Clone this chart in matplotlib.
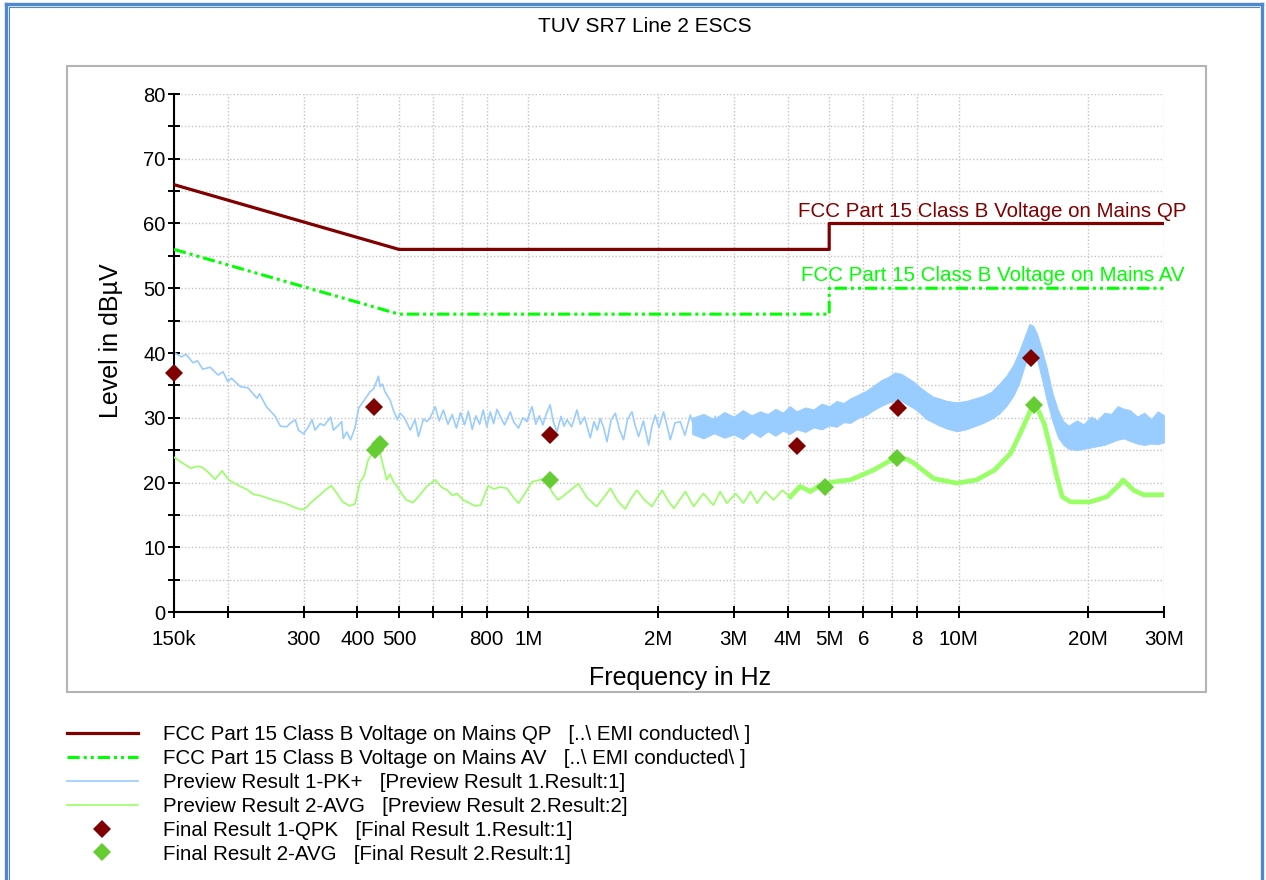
import numpy as np
import matplotlib
matplotlib.use("Agg")
import matplotlib.pyplot as plt
from matplotlib.patches import Rectangle
from matplotlib.lines import Line2D
from matplotlib.ticker import NullLocator

plt.rcParams['font.family'] = ['Liberation Sans', 'DejaVu Sans']

# ---------------- text ----------------
title = "TUV SR7 Line 2 ESCS"
x_label = "Frequency in Hz"
y_label = "Level in dBµV"
qp_label_plot = "FCC Part 15 Class B Voltage on Mains QP"
av_label_plot = "FCC Part 15 Class B Voltage on Mains AV"
legend_labels = [
    "FCC Part 15 Class B Voltage on Mains QP   [..\\ EMI conducted\\ ]",
    "FCC Part 15 Class B Voltage on Mains AV   [..\\ EMI conducted\\ ]",
    "Preview Result 1-PK+   [Preview Result 1.Result:1]",
    "Preview Result 2-AVG   [Preview Result 2.Result:2]",
    "Final Result 1-QPK   [Final Result 1.Result:1]",
    "Final Result 2-AVG   [Final Result 2.Result:1]",
]

# ---------------- ticks (MHz) ----------------
x_ticks = [0.15, 0.2, 0.3, 0.4, 0.5, 0.6, 0.7, 0.8, 1, 2, 3, 4, 5, 6, 7, 8, 10, 20, 30]
x_tick_labels = ["150k", "", "300", "400", "500", "", "", "800", "1M", "2M", "3M",
                 "4M", "5M", "6", "", "8", "10M", "20M", "30M"]
y_ticks = [0, 5, 10, 15, 20, 25, 30, 35, 40, 45, 50, 55, 60, 65, 70, 75, 80]
y_tick_labels = ["0", "", "10", "", "20", "", "30", "", "40", "", "50", "", "60", "", "70", "", "80"]

# ---------------- limit lines (MHz, dBµV) ----------------
qp_limit_f = [0.15, 0.5, 5.0, 5.0, 30.0]
qp_limit_v = [66, 56, 56, 60, 60]
av_limit_f = [0.15, 0.5, 5.0, 5.0, 30.0]
av_limit_v = [56, 46, 46, 50, 50]

# ---------------- Preview Result 1-PK+ (thin part) ----------------
pk_f = [0.150, 0.156, 0.160, 0.166, 0.170, 0.175, 0.182, 0.190, 0.195, 0.200,
        0.204, 0.214, 0.223, 0.234, 0.237, 0.246, 0.258, 0.265, 0.274, 0.280,
        0.287, 0.292, 0.300, 0.308, 0.314, 0.319, 0.328, 0.335, 0.347, 0.352,
        0.360, 0.368, 0.371, 0.378, 0.386, 0.395, 0.403, 0.413, 0.428, 0.437,
        0.448, 0.452, 0.458, 0.464, 0.477, 0.485, 0.496, 0.503, 0.515, 0.531,
        0.545, 0.555, 0.570, 0.581, 0.590, 0.607, 0.620, 0.634, 0.650, 0.665,
        0.680, 0.695, 0.710, 0.725, 0.740, 0.755, 0.770, 0.785, 0.800, 0.815,
        0.830, 0.845, 0.860, 0.880, 0.907, 0.925, 0.948, 0.970, 0.992, 1.005,
        1.019, 1.040, 1.060, 1.080, 1.100, 1.123, 1.140, 1.164, 1.190, 1.210,
        1.229, 1.260, 1.296, 1.320, 1.350, 1.392, 1.420, 1.445, 1.468, 1.495,
        1.522, 1.555, 1.592, 1.625, 1.663, 1.700, 1.740, 1.770, 1.803, 1.850,
        1.902, 1.935, 1.971, 2.010, 2.061, 2.100, 2.136, 2.190, 2.253, 2.310,
        2.377, 2.440, 2.509, 2.580, 2.650, 2.720]
pk_v = [40.1, 39.4, 39.8, 38.5, 38.8, 37.5, 37.8, 36.6, 37.1, 35.6,
        36.1, 34.8, 34.6, 33.0, 33.7, 31.7, 30.2, 28.7, 28.6, 29.2,
        29.7, 28.1, 27.5, 28.6, 29.7, 28.1, 29.1, 28.8, 30.1, 28.1,
        28.7, 29.4, 26.8, 27.8, 26.6, 28.4, 31.5, 32.5, 34.0, 34.5,
        36.4, 34.8, 35.2, 34.0, 32.7, 31.2, 29.7, 30.7, 30.0, 28.1,
        29.7, 27.1, 29.8, 29.4, 29.9, 31.7, 29.5, 31.2, 29.0, 30.5,
        28.4, 30.8, 28.9, 31.0, 28.2, 30.3, 29.0, 31.2, 28.6, 30.9,
        29.1, 31.3, 30.2, 28.9, 30.9, 29.3, 28.4, 30.0, 29.4, 30.6,
        31.7, 29.0, 30.3, 28.9, 30.6, 32.0, 29.6, 27.8, 30.2, 28.7,
        29.7, 28.6, 31.2, 29.0, 30.1, 26.9, 29.4, 28.1, 29.9, 28.5,
        26.3, 29.6, 30.7, 28.3, 26.6, 29.8, 30.9, 28.8, 27.1, 29.5,
        25.8, 28.6, 30.4, 28.5, 30.9, 28.7, 26.6, 29.2, 29.4, 27.3,
        30.4, 28.2, 27.8, 30.0, 27.4, 30.2]

# ---------------- Preview Result 1-PK+ (dense band, envelope) ----------------
band_f = [2.40, 2.55, 2.70, 2.85, 3.00, 3.15, 3.30, 3.45, 3.60, 3.75, 3.90, 4.05, 4.20,
          4.40, 4.60, 4.80, 5.00, 5.20, 5.40, 5.60,
          5.85, 6.10, 6.35, 6.60, 6.85, 7.10, 7.35, 7.60, 7.85, 8.10,
          8.40, 8.70, 9.00, 9.40, 9.90,
          10.4, 10.9, 11.4, 11.9, 12.4, 12.9, 13.4, 13.8, 14.2, 14.6,
          14.9, 15.2, 15.6, 16.0, 16.5, 17.0, 17.5, 18.0, 18.8, 19.5,
          20.3, 21.0, 21.8, 22.6, 23.4, 24.2, 25.0, 26.0, 27.0, 28.0,
          29.0, 30.0]
band_lo = [27.5, 26.8, 27.6, 26.9, 27.4, 26.7, 27.8, 27.0, 27.9, 27.2, 28.0, 27.5, 28.2,
           27.8, 28.5, 28.2, 28.8, 28.6, 29.3, 29.2,
           30.0, 30.4, 31.2, 31.8, 32.3, 32.6, 32.6, 32.0, 31.5, 30.8,
           29.8, 29.3, 28.8, 28.3, 27.9,
           28.2, 28.7, 29.2, 29.8, 30.6, 31.8, 33.4, 35.2, 37.8, 40.0,
           40.4, 39.0, 36.0, 32.8, 29.5, 27.0, 25.8, 25.2, 25.0, 25.2,
           25.4, 25.6, 25.8, 26.2, 26.6, 26.8, 26.4, 26.0, 25.8, 26.0,
           25.9, 26.2]
band_hi = [30.0, 30.6, 29.8, 30.9, 30.2, 31.2, 30.4, 31.0, 30.6, 31.4, 30.8, 31.8, 31.0,
           31.6, 31.3, 32.2, 31.8, 32.6, 32.3, 33.0,
           33.6, 34.2, 35.0, 35.8, 36.3, 37.0, 36.8, 36.2, 35.6, 34.8,
           34.0, 33.3, 33.0, 32.6, 32.4,
           32.6, 33.0, 33.4, 34.0, 35.2, 36.5, 38.2, 40.2, 42.4, 44.5,
           44.2, 43.0, 40.6, 37.9, 34.0, 31.2, 29.5, 28.8, 29.6, 29.0,
           30.2, 29.6, 30.8, 30.6, 31.8, 31.4, 31.2, 30.2, 30.8, 29.8,
           31.0, 30.4]

# ---------------- Preview Result 2-AVG ----------------
avg_f = [0.150, 0.157, 0.164, 0.170, 0.174, 0.180, 0.187, 0.194, 0.201, 0.207,
         0.214, 0.222, 0.229, 0.240, 0.255, 0.265, 0.274, 0.285, 0.296, 0.303,
         0.311, 0.320, 0.328, 0.338, 0.348, 0.358, 0.370, 0.384, 0.395, 0.406,
         0.415, 0.424, 0.436, 0.444, 0.452, 0.460, 0.468, 0.477, 0.486, 0.494,
         0.507, 0.520, 0.539, 0.558, 0.580, 0.607, 0.627, 0.648, 0.665, 0.682,
         0.705, 0.730, 0.750, 0.774, 0.790, 0.806, 0.830, 0.860, 0.891, 0.920,
         0.948, 0.985, 1.019, 1.060, 1.100, 1.135, 1.172, 1.230, 1.306, 1.370,
         1.441, 1.500, 1.551, 1.610, 1.677, 1.730, 1.786, 1.860, 1.937, 1.990,
         2.045, 2.110, 2.178, 2.250, 2.316, 2.420, 2.550, 2.690, 2.790, 2.890,
         3.030, 3.160, 3.280, 3.400, 3.550, 3.710, 3.890, 4.060, 4.280, 4.520,
         4.770, 5.120, 5.600, 6.330, 7.060, 7.590, 7.860, 8.750, 9.900, 11.00,
         12.10, 13.20, 13.90, 14.70, 15.10, 15.80, 16.30, 16.90, 17.40, 18.20,
         20.20, 22.10, 23.60, 24.10, 25.50, 26.90, 30.00]
avg_v = [23.9, 23.0, 22.2, 22.5, 22.4, 21.6, 20.5, 21.8, 20.4, 19.9,
         19.4, 18.9, 18.2, 17.9, 17.3, 17.0, 16.7, 16.2, 15.8, 16.0,
         16.8, 17.5, 18.1, 18.9, 19.5, 18.4, 17.0, 16.4, 16.7, 20.1,
         21.0, 23.5, 24.8, 26.8, 24.5, 22.5, 20.4, 21.3, 20.0, 19.5,
         18.3, 17.3, 16.9, 18.0, 19.4, 20.4, 19.3, 18.8, 18.0, 18.3,
         17.3, 16.8, 16.4, 16.5, 18.0, 19.5, 19.0, 19.3, 19.1, 17.8,
         16.8, 18.5, 20.1, 20.4, 20.6, 18.5, 17.3, 18.4, 19.8, 17.6,
         16.3, 17.8, 19.1, 17.2, 15.9, 17.5, 18.8, 17.3, 16.3, 17.6,
         18.8, 17.2, 16.0, 17.4, 18.6, 16.3, 18.3, 16.5, 18.6, 16.8,
         18.3, 16.8, 18.6, 16.8, 18.6, 17.3, 18.8, 17.8, 19.4, 18.6,
         19.6, 20.1, 20.4, 21.9, 23.7, 23.6, 23.0, 20.6, 19.9, 20.4,
         21.9, 24.5, 27.6, 31.2, 32.0, 29.1, 25.5, 20.9, 17.8, 17.0,
         17.0, 17.8, 19.6, 20.4, 18.8, 18.1, 18.1]

# ---------------- Final results ----------------
qpk_f = [0.150, 0.438, 1.125, 4.21, 7.23, 14.7]
qpk_v = [36.9, 31.7, 27.3, 25.6, 31.5, 39.2]
favg_f = [0.440, 0.452, 1.125, 4.90, 7.20, 15.0]
favg_v = [25.0, 26.0, 20.4, 19.3, 23.8, 32.0]

# ---------------- colours ----------------
c_qp = "#800000"
c_av = "#00FF00"
c_pk = "#99CCFF"
c_avg = "#99FF66"
c_favg = "#66CC33"
c_frame = "#4F88D2"

W, H = 1266, 880
fig = plt.figure(figsize=(W / 100, H / 100), dpi=100)
ax = fig.add_axes([174 / W, 1 - 612 / H, 990 / W, 518 / H])

# traces
ax.fill_between(band_f, band_lo, band_hi, color=c_pk, lw=0.6, zorder=2)
pk_line, = ax.plot(pk_f, pk_v, color=c_pk, lw=1.2, zorder=2)
avg_f_arr = np.array(avg_f)
avg_v_arr = np.array(avg_v)
avg_line, = ax.plot(avg_f_arr, avg_v_arr, color=c_avg, lw=1.2, zorder=3)
thick = avg_f_arr >= 4.0
ax.plot(avg_f_arr[thick], avg_v_arr[thick], color=c_avg, lw=3.4, zorder=3,
        solid_joinstyle='round')

# limits
qp_line, = ax.plot(qp_limit_f, qp_limit_v, color=c_qp, lw=2.3, zorder=4)
av_line, = ax.plot(av_limit_f, av_limit_v, color=c_av, lw=2.2, zorder=4,
                   linestyle=(0, (4, 1.3, 1, 1.3, 1, 1.3)))

# final results
qpk_pts, = ax.plot(qpk_f, qpk_v, linestyle='none', marker='D', ms=9.5,
                   color=c_qp, markeredgewidth=0, zorder=6, clip_on=False)
favg_pts, = ax.plot(favg_f, favg_v, linestyle='none', marker='D', ms=9.5,
                    color=c_favg, markeredgewidth=0, zorder=6, clip_on=False)

# limit line labels
ax.text(4.22, 61.8, qp_label_plot, color=c_qp, fontsize=14.8, ha='left', va='center',
        clip_on=False, zorder=7)
ax.text(4.3, 52.0, av_label_plot, color=c_av, fontsize=14.8, ha='left', va='center',
        clip_on=False, zorder=7)

# axes styling
ax.set_xscale('log')
ax.set_xlim(0.15, 30)
ax.set_ylim(0, 80)
ax.set_xticks(x_ticks)
ax.set_xticklabels(x_tick_labels)
ax.xaxis.set_minor_locator(NullLocator())
ax.set_yticks(y_ticks)
ax.set_yticklabels(y_tick_labels)
ax.tick_params(axis='both', direction='inout', length=8, width=1.4,
               colors='black')
ax.tick_params(axis='x', pad=9, labelsize=14.8)
ax.tick_params(axis='y', pad=2, labelsize=14.5)
for s in ('top', 'right'):
    ax.spines[s].set_visible(False)
for s in ('left', 'bottom'):
    ax.spines[s].set_linewidth(1.5)
ax.grid(True, color='#C4C4C4', linestyle=(0, (1, 1.5)), linewidth=1.0, zorder=0)
ax.set_axisbelow(True)
ax.set_facecolor('none')

ax.set_xlabel(x_label, fontsize=18)
ax.xaxis.set_label_coords((680 - 174) / 990, (612 - 666) / 518)
ax.set_ylabel(y_label, fontsize=18)
ax.yaxis.set_label_coords((123 - 174) / 990, (612 - 341) / 518)

# title
fig.text(645 / W, 1 - 27 / H, title, ha='center', va='center', fontsize=15)

# inner panel frame
fig.add_artist(Rectangle((67 / W, 1 - 692 / H), 1139 / W, 626 / H, transform=fig.transFigure,
                         fill=False, edgecolor='#B4B4B4', lw=1.5, zorder=-1))

# outer blue frame
fig.add_artist(Line2D([5.5 / W, 5.5 / W], [0, 1 - 4.5 / H], transform=fig.transFigure,
                      color=c_frame, lw=2.4))
fig.add_artist(Line2D([5.5 / W, 1261.5 / W], [1 - 4.5 / H, 1 - 4.5 / H], transform=fig.transFigure,
                      color=c_frame, lw=2.4))
fig.add_artist(Line2D([1261.5 / W, 1261.5 / W], [0, 1 - 4.5 / H], transform=fig.transFigure,
                      color=c_frame, lw=2.4))
fig.add_artist(Line2D([8.5 / W, 8.5 / W], [0, 1 - 7.5 / H], transform=fig.transFigure,
                      color=c_frame, lw=0.8))
fig.add_artist(Line2D([8.5 / W, 1258.5 / W], [1 - 7.5 / H, 1 - 7.5 / H], transform=fig.transFigure,
                      color=c_frame, lw=0.8))

# legend
handles = [qp_line, av_line, pk_line, avg_line, qpk_pts, favg_pts]
fig.legend(handles, legend_labels, loc='upper left',
           bbox_to_anchor=(67 / W, 1 - 725 / H), frameon=False, fontsize=14.8,
           handlelength=3.45, handletextpad=1.2, labelspacing=0.24,
           borderpad=0, borderaxespad=0, numpoints=1)

fig.savefig('out.png', dpi=100)
